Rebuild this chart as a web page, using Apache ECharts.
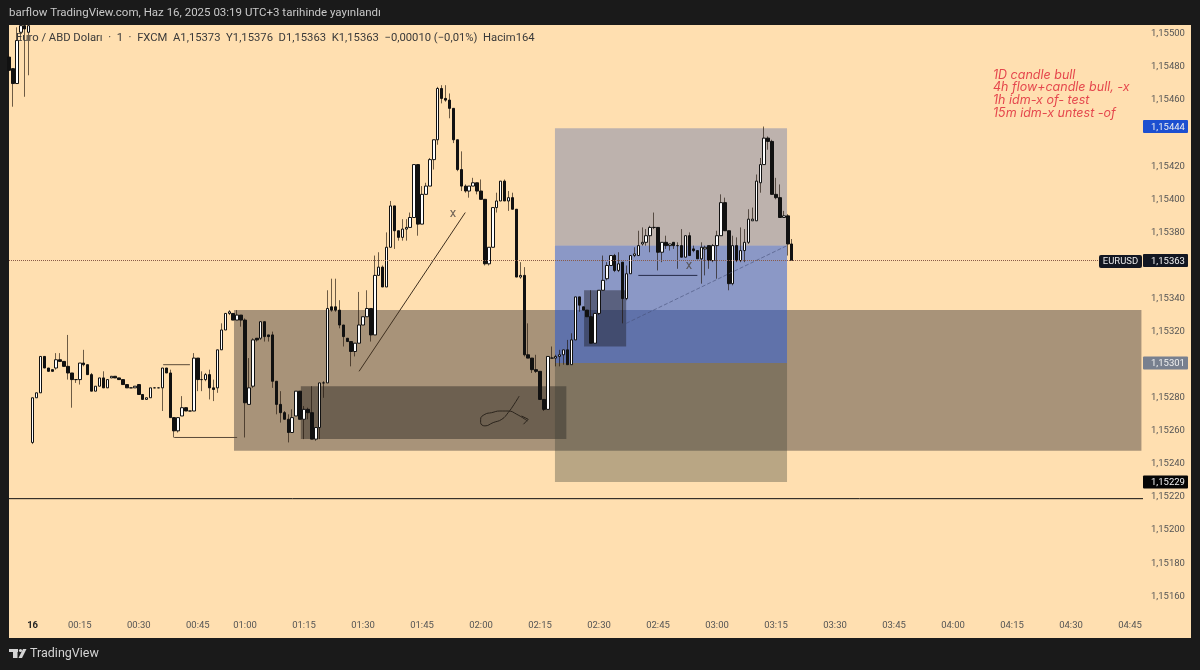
<!DOCTYPE html>
<html>
<head>
<meta charset="utf-8">
<style>
html,body{margin:0;padding:0;background:#1a1a1a;}
#main{width:1200px;height:670px;}
</style>
<script src="https://cdn.jsdelivr.net/npm/echarts@6/dist/echarts.min.js"></script>
</head>
<body>
<div id="main"></div>
<script>
// prices are points above 1,15000 (1 point = 0,00001)
var base = 115000;
var open = [486,479,470,501,505,501,253,280,283,305,298,297,298,303,302,299,295,291,291,301,
  300,294,284,287,292,286,292,293,292,291,288,286,286,288,282,279,280,286,286,286,
  298,295,268,260,269,274,272,272,304,291,291,294,286,286,309,321,331,331,327,330,
  327,276,287,316,316,326,318,318,290,276,271,267,259,269,284,267,273,271,255,262,
  289,289,335,335,333,324,316,314,308,313,324,329,334,318,354,359,347,371,396,381,
  377,382,383,389,421,385,403,408,424,436,467,461,460,455,436,418,408,405,408,410,
  405,400,361,371,395,399,411,399,401,394,353,354,306,304,297,296,279,273,304,304,
  305,306,309,300,315,341,335,333,329,313,331,345,352,360,366,357,362,340,355,366,
  366,373,374,378,383,383,368,374,372,374,372,372,365,378,370,369,364,370,372,363,
  372,378,398,381,349,372,363,369,374,387,387,410,421,437,435,403,401,389,390,373];
var close = [478,470,496,505,503,505,280,283,305,298,296,296,303,302,299,295,291,291,301,300,
  294,284,287,292,286,291,293,292,291,288,286,286,287,282,279,280,286,286,286,298,
  295,268,260,268,274,272,272,304,291,291,294,286,285,309,321,331,332,327,330,327,
  277,286,315,315,326,317,317,290,276,271,267,259,268,284,267,273,271,255,262,289,
  289,334,333,333,324,317,314,308,313,324,329,334,318,354,359,347,371,396,381,377,
  382,383,389,421,385,403,408,424,436,467,461,460,455,436,418,408,405,408,410,405,
  400,361,371,395,399,411,399,401,394,353,354,306,304,297,296,279,273,305,304,305,
  306,309,300,315,341,336,333,329,313,331,345,351,360,366,357,361,340,355,366,367,
  372,374,378,383,383,368,374,372,373,372,372,365,378,366,369,364,371,371,363,372,
  378,398,381,349,372,363,369,374,388,388,411,421,437,435,403,401,389,390,373,363];
var low = [478,456,470,496,462,475,252,280,283,298,296,296,297,302,299,291,274,289,288,299,
  294,284,284,287,286,286,292,292,291,288,286,286,286,282,279,279,280,286,286,272,
  295,268,256,259,269,272,272,272,284,284,290,279,278,283,309,321,330,327,327,323,
  256,276,286,314,315,314,314,286,270,265,267,253,259,269,267,255,267,255,254,255,
  280,289,332,332,322,311,314,299,305,313,324,329,314,318,354,347,347,371,370,375,
  375,375,383,389,378,385,403,408,418,433,458,459,449,434,417,405,404,401,408,403,
  400,360,360,371,392,399,399,393,394,353,352,305,304,295,295,279,272,273,304,299,
  299,300,300,300,315,332,333,329,313,313,330,345,351,360,356,356,325,339,355,365,
  366,372,372,368,382,357,362,370,369,370,358,365,365,366,368,364,349,354,358,362,
  352,378,381,345,348,362,362,362,373,387,387,404,421,430,403,400,389,389,366,363];
var high = [488,479,504,505,505,505,280,283,305,305,298,297,307,307,302,318,295,291,301,309,
  300,295,287,292,296,291,293,293,292,291,288,286,287,288,282,280,286,286,286,298,
  298,297,268,268,281,274,272,307,304,296,295,297,291,309,325,331,333,331,333,330,
  328,304,316,316,326,326,318,320,290,284,272,270,273,284,284,275,274,287,262,289,
  290,345,352,352,339,324,316,314,313,344,329,345,334,366,368,360,380,399,396,381,
  388,388,392,421,421,408,410,425,436,468,469,469,464,455,436,429,409,408,413,410,
  412,400,371,395,404,411,412,405,404,394,362,359,325,304,306,296,279,305,311,306,
  309,309,315,319,341,341,335,333,345,331,345,366,362,366,367,368,362,360,366,371,
  381,383,382,384,392,383,374,378,373,374,374,382,378,380,372,369,374,372,372,373,
  381,403,401,381,378,377,383,382,394,395,415,425,444,438,436,413,409,393,391,376];

// x axis: bar number, with the session gaps already taken out
var tickBars = [6,18,33,48,60,75,90,105,120,135,150,165,180,195,210,225,240,255,270,285];
var tickTimes = ['16','00:15','00:30','00:45','01:00','01:15','01:30','01:45','02:00','02:15','02:30','02:45','03:00','03:15','03:30','03:45','04:00','04:15','04:30','04:45'];
var priceTicks = [115160,115180,115200,115220,115240,115260,115280,115320,115340,115380,115400,115420,115460,115480,115500];

var xMax = 288.3;
var yMin = 115134.75;
var yMax = 115505.4;

// drawings on the chart: [bar, price]
var zoneBig = [[57.2,115333],[287.9,115248]];
var zoneInner = [[74.2,115287],[141.7,115255]];
var toolTop = [[138.8,115443],[197.8,115372]];
var toolMid = [[138.8,115372],[197.8,115301]];
var toolBottom = [[138.8,115301],[197.8,115229]];
var zoneSmall = [[146.2,115345],[156.9,115311]];

var lineHigh = [[39.2,115300],[46,115300]];
var lineLow = [[42,115256],[58,115256]];
var lineDiag = [[89,115296],[116,115392]];
var lineFloor = [[0,115219],[288.3,115219]];
var lineShort = [[160,115354],[175,115354]];
var lineDash = [[156.9,115325],[197.8,115372]];
var linePrice = [[0,115363],[277,115363]];
var scribble = [[129.7,115281],[128.4,115276],[126.9,115271],[125.3,115267],[123.1,115265],[121,115263],[119.9,115265],[119.9,115267],[121,115270],[122.7,115271],[124.8,115272],[126.9,115272],[129.1,115270],[131.8,115266]];
var scribbleHead = [[130.3,115269],[132,115267],[130.8,115264]];
var crossMarks = [[112.9,115391],[172.9,115360]];

var noteLines = ['1D candle bull','4h flow+candle bull, -x','1h idm-x of- test','15m idm-x untest -of'];
var tagValues = [115444,115363,115301,115229];
var tagColors = ['#1c4fd0','#131722','#78808f','#050505'];

var wicks = [];
var bodies = [];
for (var i = 0; i < open.length; i++) {
  wicks.push([i, open[i]+base, close[i]+base, low[i]+base, high[i]+base]);
  bodies.push([i, open[i]+base, close[i]+base, Math.min(open[i],close[i])+base, Math.max(open[i],close[i])+base]);
}

function priceText(v) {
  return (v/100000).toFixed(5).replace('.', ',');
}
function area(pair, color) {
  return [{coord: pair[0], itemStyle: {color: color}}, {coord: pair[1]}];
}
function drawLine(data, color, width, type, smooth) {
  return {
    type: 'line', data: data, symbol: 'none', silent: true, z: 5, smooth: !!smooth,
    lineStyle: {color: color, width: width, type: type || 'solid'}
  };
}

var myChart = echarts.init(document.getElementById('main'), null, {renderer: 'canvas'});
var option = {
  animation: false,
  backgroundColor: '#1a1a1a',
  textStyle: {fontFamily: 'Roboto'},
  grid: {left: 9, right: 57, top: 25, bottom: 32},
  xAxis: {
    type: 'value', min: 0, max: xMax,
    axisLine: {show: false}, axisTick: {show: false}, splitLine: {show: false},
    axisLabel: {
      inside: true, margin: 7, color: '#555', fontSize: 9.5, fontFamily: 'Roboto',
      customValues: tickBars,
      formatter: function(v) {
        var t = tickTimes[tickBars.indexOf(v)];
        return t == '16' ? '{day|16}' : t;
      },
      rich: {day: {fontWeight: 'bold', color: '#222', fontSize: 9.5, fontFamily: 'Roboto'}}
    }
  },
  yAxis: {
    type: 'value', position: 'right', min: yMin, max: yMax,
    axisLine: {show: false}, axisTick: {show: false}, splitLine: {show: false},
    axisLabel: {
      margin: 8, color: '#555', fontSize: 9.5, fontFamily: 'Roboto', align: 'left',
      padding: [4, 0, 0, 0],
      customValues: priceTicks,
      formatter: priceText
    }
  },
  series: [
    {
      type: 'line', data: [], silent: true, z: 1,
      markArea: {
        silent: true,
        data: [
          area(zoneBig, 'rgba(62,56,56,0.45)'),
          area(zoneInner, 'rgba(50,45,40,0.5)'),
          area(toolTop, 'rgba(66,94,170,0.35)'),
          area(toolMid, 'rgba(23,81,220,0.5)'),
          area(toolBottom, 'rgba(55,60,53,0.35)'),
          area(zoneSmall, 'rgba(30,30,40,0.45)')
        ]
      }
    },
    {
      type: 'candlestick', data: wicks, barWidth: 1, silent: true, z: 3,
      itemStyle: {color: 'transparent', color0: 'transparent', borderColor: 'rgba(30,20,10,0.65)', borderColor0: 'rgba(30,20,10,0.65)', borderColorDoji: 'rgba(30,20,10,0.65)', borderWidth: 1}
    },
    {
      type: 'candlestick', data: bodies, barWidth: 3, silent: true, z: 4,
      itemStyle: {color: '#fff', color0: '#111', borderColor: '#111', borderColor0: '#111', borderColorDoji: '#111', borderWidth: 1}
    },
    drawLine(lineHigh, '#5a4a38', 1),
    drawLine(lineLow, '#5a4a38', 1),
    drawLine(lineDiag, '#3f3020', 1),
    drawLine(lineFloor, '#111', 1),
    drawLine(lineShort, '#262c4a', 1),
    drawLine(lineDash, 'rgba(70,80,120,0.6)', 1, 'dashed'),
    drawLine(linePrice, '#8a5a48', 1, 'dotted'),
    drawLine(scribble, '#2b241c', 1, 'solid', true),
    drawLine(scribbleHead, '#2b241c', 1),
    {
      type: 'scatter', data: crossMarks, symbolSize: 0, silent: true, z: 6,
      label: {show: true, position: 'inside', formatter: 'x', color: '#4b4440', fontSize: 13, fontFamily: 'Roboto'}
    }
  ]
};
myChart.setOption(option);

// text and frame; tag heights follow the price scale
var graphics = [
  {type: 'rect', z: -10, shape: {x: 9, y: 25, width: 1182, height: 613}, style: {fill: '#ffdfb0'}},
  {type: 'text', z: 50, x: 9, y: 13, style: {text: 'barflow TradingView.com, Haz 16, 2025 03:19 UTC+3 tarihinde yayınlandı', fill: '#c9c9c9', font: '11.5px Roboto', textVerticalAlign: 'middle'}},
  {type: 'text', z: 50, x: 16, y: 38, style: {text: 'Euro / ABD Doları  ·  1  ·  FXCM  A1,15373  Y1,15376  D1,15363  K1,15363  −0,00010 (−0,01%)  Hacim164', fill: '#3a3a3a', font: '11.25px Roboto', textVerticalAlign: 'middle'}},
  {type: 'text', z: 50, x: 30, y: 654, style: {text: 'TradingView', fill: '#d4d4d4', font: '12.5px Roboto', textVerticalAlign: 'middle'}},
  {type: 'rect', z: 50, shape: {x: 9, y: 649, width: 9, height: 3}, style: {fill: '#d4d4d4'}},
  {type: 'rect', z: 50, shape: {x: 13, y: 652, width: 4.5, height: 6}, style: {fill: '#d4d4d4'}},
  {type: 'circle', z: 50, shape: {cx: 20.5, cy: 650.5, r: 1.6}, style: {fill: '#d4d4d4'}},
  {type: 'polygon', z: 50, shape: {points: [[23,649],[26.5,649],[22,658],[18.5,658]]}, style: {fill: '#d4d4d4'}},
  {type: 'rect', z: 50, shape: {x: 1099, y: 255, width: 43, height: 13, r: 2}, style: {fill: '#131722'}},
  {type: 'text', z: 51, x: 1120.5, y: 261.5, style: {text: 'EURUSD', fill: '#e8e8e8', font: '9.5px Roboto', textAlign: 'center', textVerticalAlign: 'middle'}}
];
for (var n = 0; n < noteLines.length; n++) {
  graphics.push({type: 'text', z: 50, x: 993, y: 75 + n*12.6, style: {text: noteLines[n], fill: '#e5474d', font: 'italic 12.5px Inter', textVerticalAlign: 'middle'}});
}
for (var k = 0; k < tagValues.length; k++) {
  var tagY = myChart.convertToPixel({yAxisIndex: 0}, tagValues[k]);
  graphics.push({type: 'rect', z: 50, shape: {x: 1143, y: tagY - 6.5, width: 45, height: 13, r: 1}, style: {fill: tagColors[k]}});
  graphics.push({type: 'text', z: 51, x: 1151, y: tagY + 1, style: {text: priceText(tagValues[k]), fill: '#f0f0f0', font: '9.5px Roboto', textVerticalAlign: 'middle'}});
}
myChart.setOption({graphic: graphics});
</script>
</body>
</html>
